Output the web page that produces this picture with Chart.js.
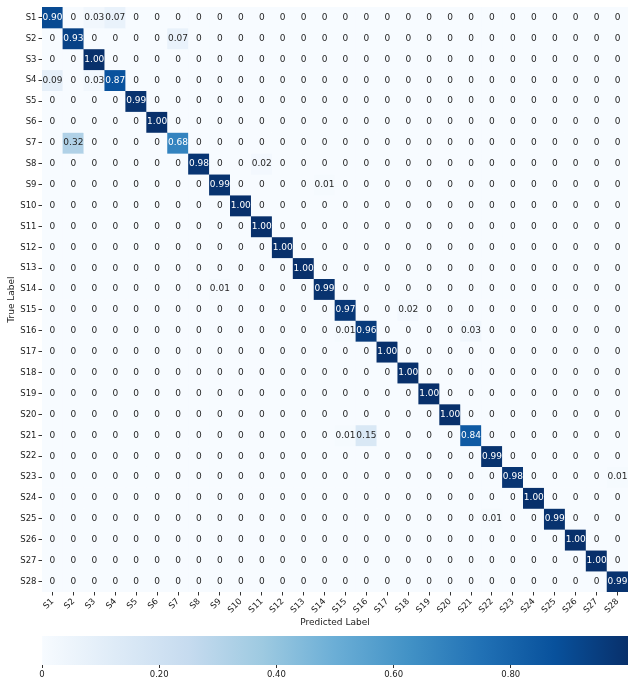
<!DOCTYPE html>
<html lang="en">
<head>
<meta charset="UTF-8">
<title>Confusion Matrix</title>
<script src="https://cdn.jsdelivr.net/npm/chart.js"></script>
<style>
  html, body { margin: 0; padding: 0; background: #fff; }
  .page { position: relative; width: 635px; height: 687px; }
  .matrix-box { position: absolute; left: 0; top: 0; width: 635px; height: 632px; }
  .cbar-box { position: absolute; left: 0; top: 630px; width: 635px; height: 57px; }
</style>
</head>
<body>
<div class="page">
  <div class="matrix-box"><canvas id="chaMatrix"></canvas></div>
  <div class="cbar-box"><canvas id="chaColorbar"></canvas></div>
</div>
<script>
// class names (rows = true label, columns = predicted label)
const classLabels = ['S1','S2','S3','S4','S5','S6','S7','S8','S9','S10','S11','S12','S13','S14',
  'S15','S16','S17','S18','S19','S20','S21','S22','S23','S24','S25','S26','S27','S28'];

// normalised confusion matrix, one row per true label
const confusion = [
  [0.90,0,0.03,0.07,0,0,0, 0,0,0,0,0,0,0, 0,0,0,0,0,0,0, 0,0,0,0,0,0,0],
  [0,0.93,0,0,0,0,0.07, 0,0,0,0,0,0,0, 0,0,0,0,0,0,0, 0,0,0,0,0,0,0],
  [0,0,1.00,0,0,0,0, 0,0,0,0,0,0,0, 0,0,0,0,0,0,0, 0,0,0,0,0,0,0],
  [0.09,0,0.03,0.87,0,0,0, 0,0,0,0,0,0,0, 0,0,0,0,0,0,0, 0,0,0,0,0,0,0],
  [0,0,0,0,0.99,0,0, 0,0,0,0,0,0,0, 0,0,0,0,0,0,0, 0,0,0,0,0,0,0],
  [0,0,0,0,0,1.00,0, 0,0,0,0,0,0,0, 0,0,0,0,0,0,0, 0,0,0,0,0,0,0],
  [0,0.32,0,0,0,0,0.68, 0,0,0,0,0,0,0, 0,0,0,0,0,0,0, 0,0,0,0,0,0,0],
  [0,0,0,0,0,0,0, 0.98,0,0,0.02,0,0,0, 0,0,0,0,0,0,0, 0,0,0,0,0,0,0],
  [0,0,0,0,0,0,0, 0,0.99,0,0,0,0,0.01, 0,0,0,0,0,0,0, 0,0,0,0,0,0,0],
  [0,0,0,0,0,0,0, 0,0,1.00,0,0,0,0, 0,0,0,0,0,0,0, 0,0,0,0,0,0,0],
  [0,0,0,0,0,0,0, 0,0,0,1.00,0,0,0, 0,0,0,0,0,0,0, 0,0,0,0,0,0,0],
  [0,0,0,0,0,0,0, 0,0,0,0,1.00,0,0, 0,0,0,0,0,0,0, 0,0,0,0,0,0,0],
  [0,0,0,0,0,0,0, 0,0,0,0,0,1.00,0, 0,0,0,0,0,0,0, 0,0,0,0,0,0,0],
  [0,0,0,0,0,0,0, 0,0.01,0,0,0,0,0.99, 0,0,0,0,0,0,0, 0,0,0,0,0,0,0],
  [0,0,0,0,0,0,0, 0,0,0,0,0,0,0, 0.97,0,0,0.02,0,0,0, 0,0,0,0,0,0,0],
  [0,0,0,0,0,0,0, 0,0,0,0,0,0,0, 0.01,0.96,0,0,0,0,0.03, 0,0,0,0,0,0,0],
  [0,0,0,0,0,0,0, 0,0,0,0,0,0,0, 0,0,1.00,0,0,0,0, 0,0,0,0,0,0,0],
  [0,0,0,0,0,0,0, 0,0,0,0,0,0,0, 0,0,0,1.00,0,0,0, 0,0,0,0,0,0,0],
  [0,0,0,0,0,0,0, 0,0,0,0,0,0,0, 0,0,0,0,1.00,0,0, 0,0,0,0,0,0,0],
  [0,0,0,0,0,0,0, 0,0,0,0,0,0,0, 0,0,0,0,0,1.00,0, 0,0,0,0,0,0,0],
  [0,0,0,0,0,0,0, 0,0,0,0,0,0,0, 0.01,0.15,0,0,0,0,0.84, 0,0,0,0,0,0,0],
  [0,0,0,0,0,0,0, 0,0,0,0,0,0,0, 0,0,0,0,0,0,0, 0.99,0,0,0,0,0,0],
  [0,0,0,0,0,0,0, 0,0,0,0,0,0,0, 0,0,0,0,0,0,0, 0,0.98,0,0,0,0,0.01],
  [0,0,0,0,0,0,0, 0,0,0,0,0,0,0, 0,0,0,0,0,0,0, 0,0,1.00,0,0,0,0],
  [0,0,0,0,0,0,0, 0,0,0,0,0,0,0, 0,0,0,0,0,0,0, 0.01,0,0,0.99,0,0,0],
  [0,0,0,0,0,0,0, 0,0,0,0,0,0,0, 0,0,0,0,0,0,0, 0,0,0,0,1.00,0,0],
  [0,0,0,0,0,0,0, 0,0,0,0,0,0,0, 0,0,0,0,0,0,0, 0,0,0,0,0,1.00,0],
  [0,0,0,0,0,0,0, 0,0,0,0,0,0,0, 0,0,0,0,0,0,0, 0,0,0,0,0,0,0.99]
];

const colorbarTicks = [0, 0.2, 0.4, 0.6, 0.8];

// matplotlib "Blues" colormap, evenly spaced stops
const bluesStops = [[247,251,255],[222,235,247],[198,219,239],[158,202,225],[107,174,214],
  [66,146,198],[33,113,181],[8,81,156],[8,48,107]];

function bluesRgb(v) {
  const t = Math.max(0, Math.min(1, v)) * (bluesStops.length - 1);
  const i = Math.min(Math.floor(t), bluesStops.length - 2);
  const f = t - i;
  const a = bluesStops[i], b = bluesStops[i + 1];
  return a.map((c, k) => Math.round(c + (b[k] - c) * f));
}

function bluesColor(v) {
  const [r, g, b] = bluesRgb(v);
  return `rgb(${r},${g},${b})`;
}

// same rule seaborn uses: light text on dark cells
function textColorFor(v) {
  const lum = bluesRgb(v).map(c => {
    c = c / 255;
    return c <= 0.03928 ? c / 12.92 : Math.pow((c + 0.055) / 1.055, 2.4);
  });
  const l = 0.2126 * lum[0] + 0.7152 * lum[1] + 0.0722 * lum[2];
  return l > 0.408 ? '#262626' : '#ffffff';
}

Chart.defaults.font.family = '"DejaVu Sans", sans-serif';
Chart.defaults.font.size = 8.5;
Chart.defaults.color = '#1a1a1a';

// writes the value into every cell
const cellText = {
  id: 'cellText',
  afterDatasetsDraw(chart) {
    const { ctx, scales: { x, y } } = chart;
    ctx.save();
    ctx.font = '9px "DejaVu Sans", sans-serif';
    ctx.textAlign = 'center';
    ctx.textBaseline = 'middle';
    confusion.forEach((row, r) => {
      row.forEach((v, c) => {
        ctx.fillStyle = textColorFor(v);
        ctx.fillText(v === 0 ? '0' : v.toFixed(2), x.getPixelForValue(c), y.getPixelForValue(r + 0.5));
      });
    });
    ctx.restore();
  }
};

const matrixDatasets = confusion.map((row, r) => ({
  label: classLabels[r],
  data: row.map(() => [r, r + 1]),
  backgroundColor: row.map(v => bluesColor(v)),
  borderWidth: 0,
  barPercentage: 1,
  categoryPercentage: 1,
  grouped: false
}));

new Chart(document.getElementById('chaMatrix'), {
  type: 'bar',
  data: { labels: classLabels, datasets: matrixDatasets },
  options: {
    responsive: true,
    maintainAspectRatio: false,
    animation: false,
    events: [],
    layout: { padding: { top: 6, right: 7, left: 0, bottom: 0 } },
    plugins: { legend: { display: false }, tooltip: { enabled: false } },
    scales: {
      x: {
        type: 'category',
        offset: true,
        grid: { drawOnChartArea: false, offset: false, tickLength: 3.5, color: '#333' },
        border: { display: false },
        ticks: { autoSkip: false, minRotation: 45, maxRotation: 45, padding: 1 },
        title: { display: true, text: 'Predicted Label', font: { size: 9 }, padding: { top: 0, bottom: 4 } },
        afterFit: axis => { axis.height = 40; }
      },
      y: {
        type: 'linear',
        min: 0,
        max: classLabels.length,
        reverse: true,
        afterBuildTicks: axis => { axis.ticks = classLabels.map((_, i) => ({ value: i + 0.5 })); },
        grid: { drawOnChartArea: false, tickLength: 3.5, color: '#333' },
        border: { display: false },
        ticks: { autoSkip: false, padding: 2, callback: v => classLabels[Math.floor(v)] },
        title: { display: true, text: 'True Label', font: { size: 9 }, padding: { top: 6, bottom: 0 } },
        afterFit: axis => { axis.width = 42; }
      }
    }
  },
  plugins: [cellText]
});

// colour bar under the matrix
function gradientFill(context) {
  const chart = context.chart;
  const x = chart.scales.x;
  if (!chart.chartArea || !x) return bluesColor(0.5);
  const g = chart.ctx.createLinearGradient(x.getPixelForValue(0), 0, x.getPixelForValue(1), 0);
  bluesStops.forEach((s, i) => g.addColorStop(i / (bluesStops.length - 1), `rgb(${s[0]},${s[1]},${s[2]})`));
  return g;
}

new Chart(document.getElementById('chaColorbar'), {
  type: 'bar',
  data: {
    labels: [''],
    datasets: [{ data: [[0, 1]], backgroundColor: gradientFill, borderWidth: 0, barPercentage: 1, categoryPercentage: 1 }]
  },
  options: {
    indexAxis: 'y',
    responsive: true,
    maintainAspectRatio: false,
    animation: false,
    events: [],
    layout: { padding: { left: 42, right: 7, top: 6, bottom: 0 } },
    plugins: { legend: { display: false }, tooltip: { enabled: false } },
    scales: {
      y: { display: false },
      x: {
        type: 'linear',
        min: 0,
        max: 1,
        afterBuildTicks: axis => { axis.ticks = colorbarTicks.map(v => ({ value: v })); },
        grid: { drawOnChartArea: false, tickLength: 3, color: '#333' },
        border: { display: false },
        ticks: { autoSkip: false, maxRotation: 0, padding: 2, callback: v => v === 0 ? '0' : v.toFixed(2) },
        afterFit: axis => { axis.height = 22; }
      }
    }
  }
});
</script>
</body>
</html>
